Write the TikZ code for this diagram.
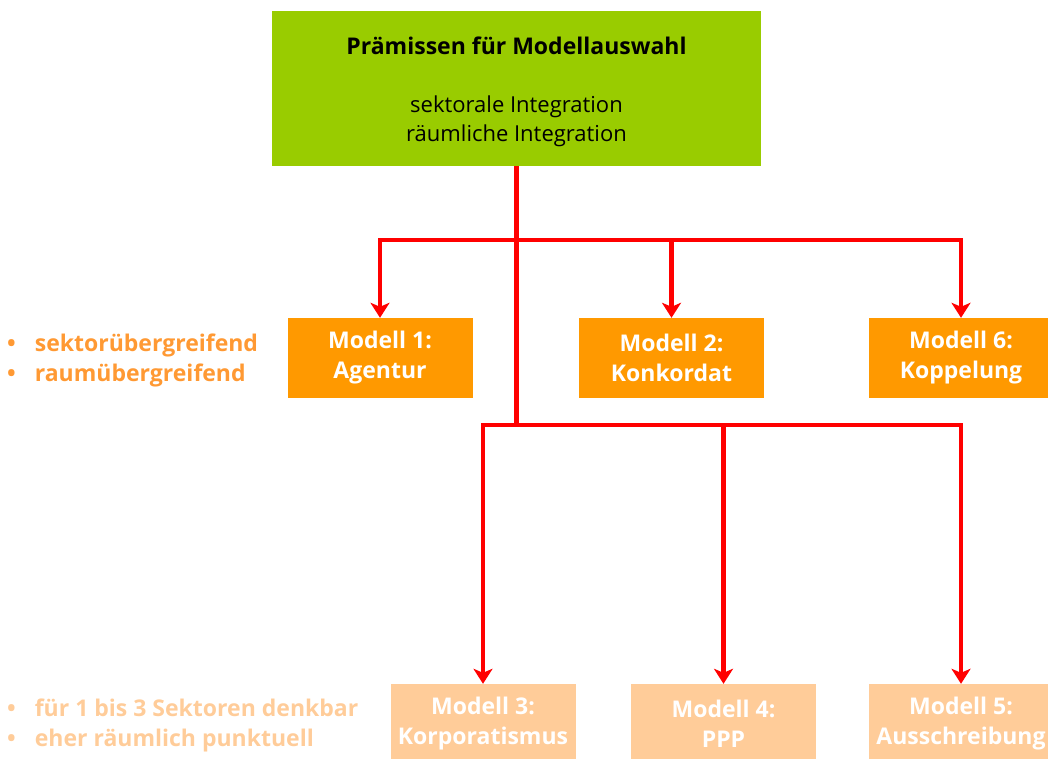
\documentclass[tikz,border=0pt]{standalone}
\usepackage{fontspec}
\setmainfont{Open Sans}
\usetikzlibrary{arrows.meta}
\definecolor{topgreen}{HTML}{99CC00}
\definecolor{orgA}{HTML}{FF9900}
\definecolor{orgB}{HTML}{FFCC99}
\definecolor{orgT}{HTML}{FF9933}
\definecolor{lnred}{HTML}{FF0000}
\tikzset{
  modelA/.style={fill=orgA, text=white, font=\fontsize{23}{30}\selectfont\bfseries, align=center, minimum width=185pt, minimum height=80pt, inner sep=0pt},
  modelB/.style={modelA, fill=orgB},
  conn/.style={draw=lnred, line width=4.5pt, line join=miter},
  arr/.style={-{Stealth[width=19pt,length=15pt,inset=4pt]}},
  note/.style={font=\fontsize{23}{30}\selectfont\bfseries, align=left, anchor=west, inner sep=0pt}
}
\begin{document}
\begin{tikzpicture}[x=1pt,y=-1pt]
\useasboundingbox (0,0) rectangle (1048,758);
\node[fill=topgreen, minimum width=489pt, minimum height=155pt, inner sep=0pt, align=center, font=\fontsize{22}{29}\selectfont] (top) at (516.5,88.5)
  {\\[-4pt]{\fontsize{23}{29}\selectfont\bfseries Prämissen für Modellauswahl}\\[29pt]sektorale Integration\\räumliche Integration};
\node[modelA] (m1) at (380,358) {Modell 1:\\Agentur};
\node[modelA] (m2) at (671.5,358) {Modell 2:\\Konkordat};
\node[modelA] (m6) at (961,358) {Modell 6:\\Koppelung};
\node[modelB] (m3) at (483,724) {Modell 3:\\Korporatismus};
\node[modelB] (m4) at (723.5,724) {Modell 4:\\PPP};
\node[modelB] (m5) at (961,724) {Modell 5:\\Ausschreibung};
\node[note, text=orgT] (n1) at (7,360) {•\hspace{19pt}sektorübergreifend\\•\hspace{19pt}raumübergreifend};
\node[note, text=orgB] (n2) at (7,725) {•\hspace{19pt}für 1 bis 3 Sektoren denkbar\\•\hspace{19pt}eher räumlich punktuell};
\coordinate (j1) at (top.south |- 0,240);
\coordinate (j2) at (top.south |- 0,425);
\draw[conn] (top.south) -- (j2);
\draw[conn,arr] (j1) -| (m1.north);
\draw[conn,arr] (j1) -| (m2.north);
\draw[conn,arr] (j1) -| (m6.north);
\draw[conn,arr] (j2) -| (m3.north);
\draw[conn,arr] (j2) -| (m4.north);
\draw[conn,arr] (j2) -| (m5.north);
\end{tikzpicture}
\end{document}
